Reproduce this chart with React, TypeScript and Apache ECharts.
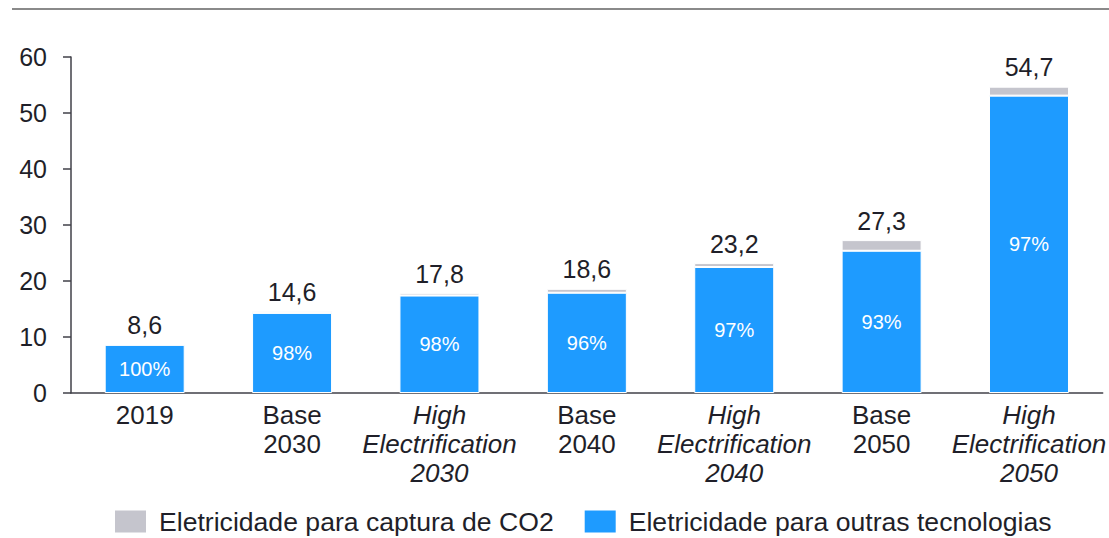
import React, { useEffect, useRef } from "react";
import * as echarts from "echarts";

const categories = ["2019", "Base 2030", "High Electrification 2030", "Base 2040", "High Electrification 2040", "Base 2050", "High Electrification 2050"];
const italicCats = [false, false, true, false, true, false, true];
const totals = [8.6, 14.6, 17.8, 18.6, 23.2, 27.3, 54.7];
const shares = [100, 98, 98, 96, 97, 93, 97];
const otherTech = [8.6, 14.3, 17.4, 17.9, 22.5, 25.4, 53.1];
const co2Capture = [0, 0.3, 0.4, 0.7, 0.7, 1.9, 1.6];
const yTicks = [0, 10, 20, 30, 40, 50, 60];

const BLUE = "#1E9BFF";
const GRAY = "#C5C5CD";
const TEXT = "#1f1f29";
const FONT = "'Liberation Sans', Arial, sans-serif";

export default function App() {
  const ref = useRef<HTMLDivElement>(null);
  useEffect(() => {
    if (!ref.current) return;
    const chart = echarts.init(ref.current, null, { renderer: "svg" });
    chart.setOption({
      animation: false,
      textStyle: { fontFamily: FONT },
      graphic: [
        { type: "line", shape: { x1: 12, y1: 9, x2: 1109, y2: 9 }, style: { stroke: "#8a8a8a", lineWidth: 2 } },
      ],
      legend: {
        bottom: -2,
        left: 108,
        itemWidth: 33,
        itemHeight: 24,
        itemGap: 29,
        icon: "rect",
        textStyle: { fontSize: 26.6, color: TEXT, fontFamily: FONT, padding: [0, 0, 0, 7] },
        data: ["Eletricidade para captura de CO2", "Eletricidade para outras tecnologias"],
      },
      grid: { left: 71, right: 2, top: 57, height: 336, containLabel: false },
      xAxis: {
        type: "category",
        data: categories,
        axisLine: { lineStyle: { color: "#404048", width: 1.5 } },
        axisTick: { show: false },
        axisLabel: {
          margin: 7,
          interval: 0,
          fontSize: 26,
          lineHeight: 29,
          color: TEXT,
          formatter: (v: string, i: number) => {
            const words = v.startsWith("High") ? ["High", "Electrification", v.split(" ")[2]] : v.split(" ");
            const key = italicCats[i] ? "i" : "n";
            return words.map((w) => `{${key}|${w}}`).join("\n");
          },
          rich: {
            n: { fontSize: 26, lineHeight: 29, color: TEXT, fontFamily: FONT },
            i: { fontSize: 26, lineHeight: 29, color: TEXT, fontStyle: "italic", fontFamily: FONT },
          },
        },
      },
      yAxis: {
        type: "value",
        min: yTicks[0],
        max: yTicks[yTicks.length - 1],
        interval: 10,
        splitLine: { show: false },
        axisLine: { show: true, lineStyle: { color: "#404048", width: 1.5 } },
        axisTick: { show: true, length: 8, lineStyle: { color: "#404048", width: 1.5 } },
        axisLabel: { fontSize: 25, color: TEXT, margin: 24 },
      },
      series: [
        {
          name: "Eletricidade para outras tecnologias",
          type: "bar",
          stack: "t",
          data: otherTech,
          barWidth: 80,
          itemStyle: { color: BLUE, borderColor: "#ffffff", borderWidth: 1 },
          label: {
            show: true,
            position: "inside",
            color: "#ffffff",
            fontSize: 20,
            formatter: (p: any) => `${shares[p.dataIndex]}%`,
          },
        },
        {
          name: "Eletricidade para captura de CO2",
          type: "bar",
          stack: "t",
          data: co2Capture,
          barWidth: 80,
          itemStyle: { color: GRAY, borderColor: "#ffffff", borderWidth: 1 },
          label: {
            show: true,
            position: "top",
            distance: 7,
            color: TEXT,
            fontSize: 25,
            formatter: (p: any) => totals[p.dataIndex].toFixed(1).replace(".", ","),
          },
        },
      ],
    });
    return () => chart.dispose();
  }, []);
  return <div ref={ref} style={{ position: "fixed", left: 0, top: 0, width: 1109, height: 538, background: "#fff" }} />;
}
